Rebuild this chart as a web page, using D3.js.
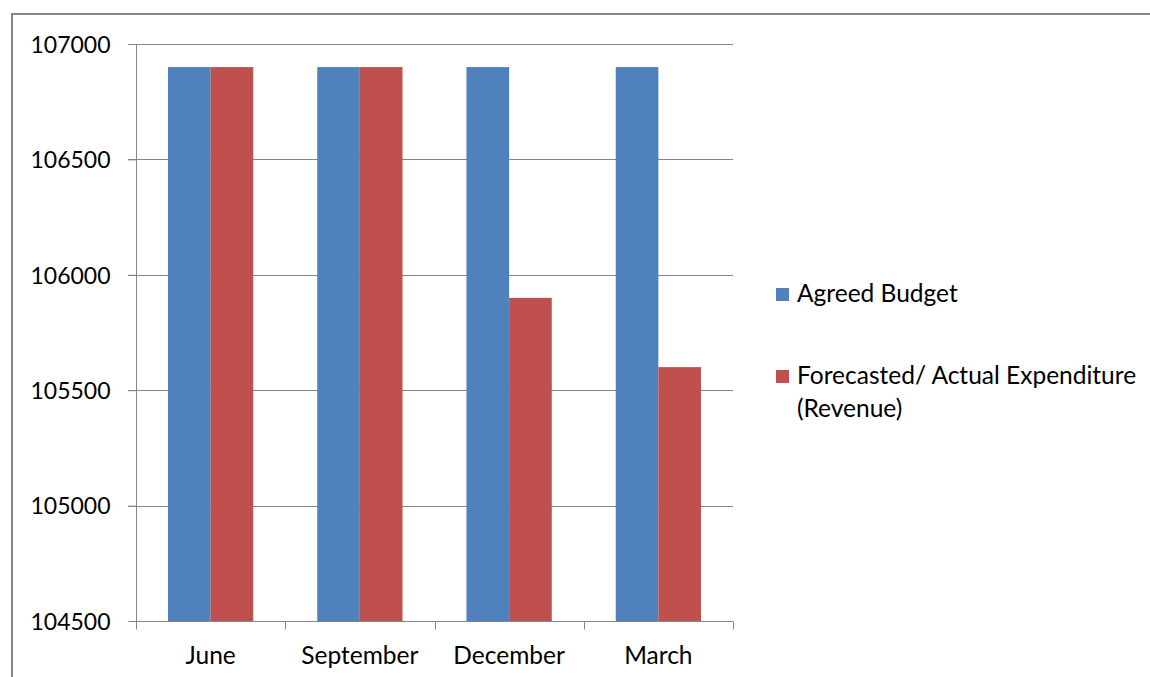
<!DOCTYPE html>
<html lang="en">
<head>
<meta charset="UTF-8">
<title>budget chart</title>
<style>
  body { margin: 0; background: #fff; }
  svg text { font-family: Lato, "Open Sans", sans-serif; fill: #000; }
</style>
</head>
<body>
<svg id="chart" width="1150" height="677"></svg>
<script src="https://cdn.jsdelivr.net/npm/d3@7"></script>
<script>
const categories = ["June", "September", "December", "March"];
const seriesNames = ["Agreed Budget", "Forecasted/ Actual Expenditure (Revenue)"];
const agreedBudget = [106900, 106900, 106900, 106900];
const forecastActual = [106900, 106900, 105900, 105600];
const yTicks = [104500, 105000, 105500, 106000, 106500, 107000];
const colors = ["#4F81BD", "#C0504D"];

const svg = d3.select("#chart");
const plotLeft = 136, plotRight = 733, plotTop = 44, plotBottom = 621;

// outer frame of the chart object
svg.append("rect")
  .attr("x", 12).attr("y", 14)
  .attr("width", 1160).attr("height", 700)
  .attr("fill", "none").attr("stroke", "#868686").attr("stroke-width", 2);

let y = d3.scaleLinear().domain([104500, 107000]).range([plotBottom, plotTop]);
let x = d3.scaleBand().domain(categories).range([plotLeft, plotRight]).paddingInner(0).paddingOuter(0);
// gap width 150% -> half gap on each side of the pair
let xs = d3.scaleBand().domain([0, 1]).range([0, x.bandwidth()]).paddingInner(0).paddingOuter(0.75);

// gridlines
svg.append("g").selectAll("line")
  .data(yTicks.slice(1))
  .enter().append("line")
  .attr("x1", plotLeft - 8).attr("x2", plotRight)
  .attr("y1", d => Math.round(y(d)) + 0.5).attr("y2", d => Math.round(y(d)) + 0.5)
  .attr("stroke", "#868686").attr("stroke-width", 1);

// bars
let rows = categories.map((c, i) => ({ cat: c, vals: [agreedBudget[i], forecastActual[i]] }));
let g = svg.append("g").selectAll("g")
  .data(rows).enter().append("g")
  .attr("transform", d => "translate(" + x(d.cat) + ",0)");
g.selectAll("rect")
  .data(d => d.vals.map((v, k) => ({ k: k, v: v })))
  .enter().append("rect")
  .attr("x", d => xs(d.k))
  .attr("width", xs.bandwidth())
  .attr("y", d => y(d.v))
  .attr("height", d => plotBottom - y(d.v))
  .attr("fill", d => colors[d.k]);

// y axis
let yAxis = d3.axisLeft(y).tickValues(yTicks).tickSize(8).tickFormat(d3.format("d"));
let ya = svg.append("g").attr("transform", "translate(" + (plotLeft + 0.5) + ",0)").call(yAxis);
ya.select(".domain").attr("stroke", "#868686").attr("d", "M0," + plotTop + "V" + plotBottom);
ya.selectAll(".tick line").attr("stroke", "#868686");
ya.selectAll(".tick text").attr("x", -26).attr("dy", "0.36em")
  .style("font-size", "23px").attr("fill", "#000");

// x axis
let xAxis = d3.axisBottom(x).tickSize(0).tickSizeOuter(0);
let xa = svg.append("g").attr("transform", "translate(0," + (plotBottom + 0.5) + ")").call(xAxis);
xa.select(".domain").attr("stroke", "#868686").attr("d", "M" + plotLeft + ",0H" + plotRight);
xa.selectAll(".tick text").attr("y", 42).attr("dy", 0)
  .style("font-size", "24.5px").attr("fill", "#000");
let edges = categories.map(c => x(c)).concat([plotRight]);
xa.selectAll(".edge").data(edges).enter().append("line")
  .attr("class", "edge")
  .attr("x1", d => Math.round(d) + 0.5).attr("x2", d => Math.round(d) + 0.5).attr("y1", 0).attr("y2", 8)
  .attr("stroke", "#868686");

// legend
let legend = svg.append("g").attr("transform", "translate(776,0)");
let legendRows = [
  { name: ["Agreed Budget"], y: 302 },
  { name: ["Forecasted/ Actual Expenditure", "(Revenue)"], y: 384 }
];
legendRows.forEach((r, i) => {
  legend.append("rect").attr("x", 0).attr("y", r.y - 14).attr("width", 13).attr("height", 13).attr("fill", colors[i]);
  let t = legend.append("text").attr("x", 21).attr("y", r.y).style("font-size", "24.5px");
  r.name.forEach((line, j) => {
    t.append("tspan").attr("x", 21).attr("dy", j === 0 ? 0 : 33).text(line);
  });
});
</script>
</body>
</html>
